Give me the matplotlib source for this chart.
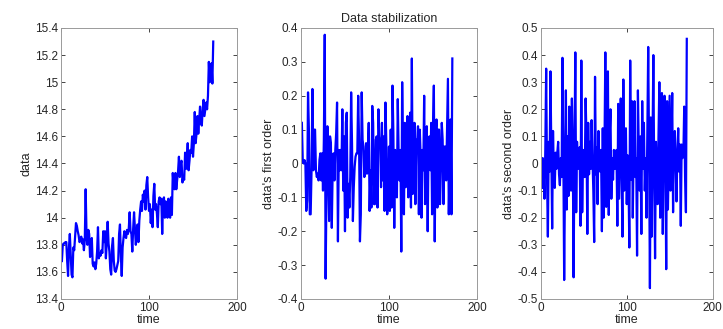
import numpy as np
import matplotlib
matplotlib.use("Agg")
import matplotlib.pyplot as plt

data = [
    13.68, 13.80, 13.81, 13.81, 13.82, 13.82, 13.68, 13.57, 13.78, 13.88,
    13.73, 13.58, 13.56, 13.78, 13.76, 13.86, 13.96, 13.94, 13.90, 13.87,
    13.82, 13.83, 13.86, 13.81, 13.84, 13.76, 13.83, 14.21, 13.87, 13.80,
    13.91, 13.88, 13.71, 13.79, 13.85, 13.66, 13.64, 13.67, 13.62, 13.66,
    13.75, 13.93, 13.70, 13.74, 13.72, 13.76, 13.74, 13.90, 13.82, 13.90,
    13.70, 13.82, 13.97, 13.81, 13.75, 13.62, 13.58, 13.79, 13.85, 13.68,
    13.61, 13.60, 13.62, 13.65, 13.68, 13.88, 13.95, 13.72, 13.57, 13.78,
    13.85, 13.90, 13.86, 13.85, 13.91, 13.88, 13.92, 14.04, 13.90, 13.88,
    13.75, 13.92, 14.04, 13.92, 13.80, 13.87, 13.95, 13.82, 13.98, 14.06,
    14.12, 14.05, 14.17, 14.12, 14.20, 14.06, 14.24, 14.30, 14.15, 14.05,
    14.10, 13.96, 14.06, 13.93, 14.16, 14.25, 14.06, 14.10, 14.03, 13.93,
    14.12, 14.15, 14.10, 14.14, 13.88, 14.12, 14.15, 14.00, 14.12, 14.05,
    14.00, 14.14, 14.04, 14.00, 14.15, 14.02, 14.33, 14.24, 14.21, 14.33,
    14.21, 14.28, 14.34, 14.45, 14.30, 14.40, 14.42, 14.26, 14.30, 14.28,
    14.48, 14.36, 14.44, 14.55, 14.35, 14.42, 14.50, 14.48, 14.60, 14.45,
    14.55, 14.78, 14.55, 14.62, 14.75, 14.62, 14.72, 14.82, 14.70, 14.68,
    14.80, 14.87, 14.75, 14.80, 14.85, 14.80, 14.90, 15.15, 15.00, 15.01,
    15.14, 14.99, 15.30,
]

# tercer panel leido directamente de la figura (t = 1..170)
second_order = [
    -0.09, 0.02, -0.02, -0.13, 0.05, 0.35, -0.05, -0.27, 0.08, -0.03,
    0.34, 0.05, -0.24, 0.12, -0.05, -0.09, 0.04, -0.02, 0.04, 0.08,
    -0.04, -0.08, 0.02, -0.05, 0.39, 0.05, -0.43, -0.05, 0.27, -0.17,
    0.10, -0.12, 0.21, -0.03, -0.10, 0.24, 0.05, -0.42, 0.05, 0.41,
    -0.18, 0.08, -0.02, 0.00, 0.06, -0.23, 0.38, -0.18, 0.05, 0.00,
    -0.05, 0.24, 0.10, -0.26, 0.15, -0.04, 0.08, -0.02, 0.16, 0.02,
    -0.10, -0.29, 0.32, -0.04, 0.06, -0.15, 0.12, 0.00, -0.03, 0.05,
    -0.25, 0.13, -0.20, 0.05, 0.41, -0.16, -0.05, 0.34, -0.19, 0.10,
    0.20, -0.13, 0.02, -0.06, 0.05, -0.02, 0.04, 0.05, -0.23, 0.22,
    -0.13, 0.05, 0.24, -0.05, -0.27, 0.31, -0.10, 0.05, 0.13, -0.15,
    0.03, -0.05, -0.31, 0.38, -0.06, 0.23, -0.20, 0.05, 0.23, -0.05,
    0.02, -0.34, 0.27, 0.05, -0.10, 0.10, -0.26, 0.23, -0.02, 0.15,
    -0.10, 0.02, -0.20, 0.10, 0.43, 0.05, -0.46, 0.17, -0.27, 0.05,
    0.40, -0.05, -0.35, 0.08, -0.02, -0.15, 0.10, 0.30, -0.20, 0.05,
    0.26, -0.26, 0.05, 0.25, 0.02, -0.39, 0.23, -0.17, 0.05, 0.25,
    -0.10, 0.04, 0.26, -0.18, 0.08, 0.12, 0.00, -0.14, 0.04, 0.13,
    -0.03, 0.07, -0.23, 0.07, 0.02, 0.03, 0.21, -0.05, -0.18, 0.46,
]

data = np.array(data)
first_order = np.diff(data)
second_order = np.array(second_order)

x_ticks = [0, 100, 200]
y_ticks_1 = [13.4, 13.6, 13.8, 14.0, 14.2, 14.4, 14.6, 14.8, 15.0, 15.2, 15.4]
y_labels_1 = ["13.4", "13.6", "13.8", "14", "14.2", "14.4", "14.6", "14.8", "15", "15.2", "15.4"]
y_ticks_2 = [-0.4, -0.3, -0.2, -0.1, 0, 0.1, 0.2, 0.3, 0.4]
y_labels_2 = ["-0.4", "-0.3", "-0.2", "-0.1", "0", "0.1", "0.2", "0.3", "0.4"]
y_ticks_3 = [-0.5, -0.4, -0.3, -0.2, -0.1, 0, 0.1, 0.2, 0.3, 0.4, 0.5]
y_labels_3 = ["-0.5", "-0.4", "-0.3", "-0.2", "-0.1", "0", "0.1", "0.2", "0.3", "0.4", "0.5"]

plt.rcParams["font.family"] = ["Liberation Sans", "DejaVu Sans"]

fig = plt.figure(figsize=(7.23, 3.29), dpi=100)
# posiciones de los tres paneles (fraccion de figura)
boxes = [
    [0.0844, 0.0912, 0.2434, 0.8237],
    [0.4163, 0.0912, 0.2434, 0.8237],
    [0.7483, 0.0912, 0.2372, 0.8237],
]
axes = [fig.add_axes(b) for b in boxes]

series = [data, first_order, second_order]
ylabels = ["data", "data's first order", "data's second order"]
ylims = [(13.4, 15.4), (-0.4, 0.4), (-0.5, 0.5)]
yticks = [(y_ticks_1, y_labels_1), (y_ticks_2, y_labels_2), (y_ticks_3, y_labels_3)]

for ax, y, lab, lim, (tk, tl) in zip(axes, series, ylabels, ylims, yticks):
    t = np.arange(1, len(y) + 1)
    ax.plot(t, y, color=(0, 0, 1), linewidth=1.6)
    ax.set_xlim(0, 200)
    ax.set_ylim(*lim)
    ax.set_xticks(x_ticks)
    ax.set_xticklabels([str(v) for v in x_ticks])
    ax.set_yticks(tk)
    ax.set_yticklabels(tl)
    ax.tick_params(direction="in", top=True, right=True, length=3, width=0.6,
                   labelsize=8.5, colors="#262626", pad=2)
    for sp in ax.spines.values():
        sp.set_color("#9a9a9a")
        sp.set_linewidth(0.7)
    ax.set_xlabel("time", fontsize=9, color="#262626", labelpad=0)
    ax.set_ylabel(lab, fontsize=9, color="#262626", labelpad=2)

axes[1].set_title("Data stabilization", fontsize=9, color="#262626", pad=4)

fig.savefig("out.png", dpi=100)
